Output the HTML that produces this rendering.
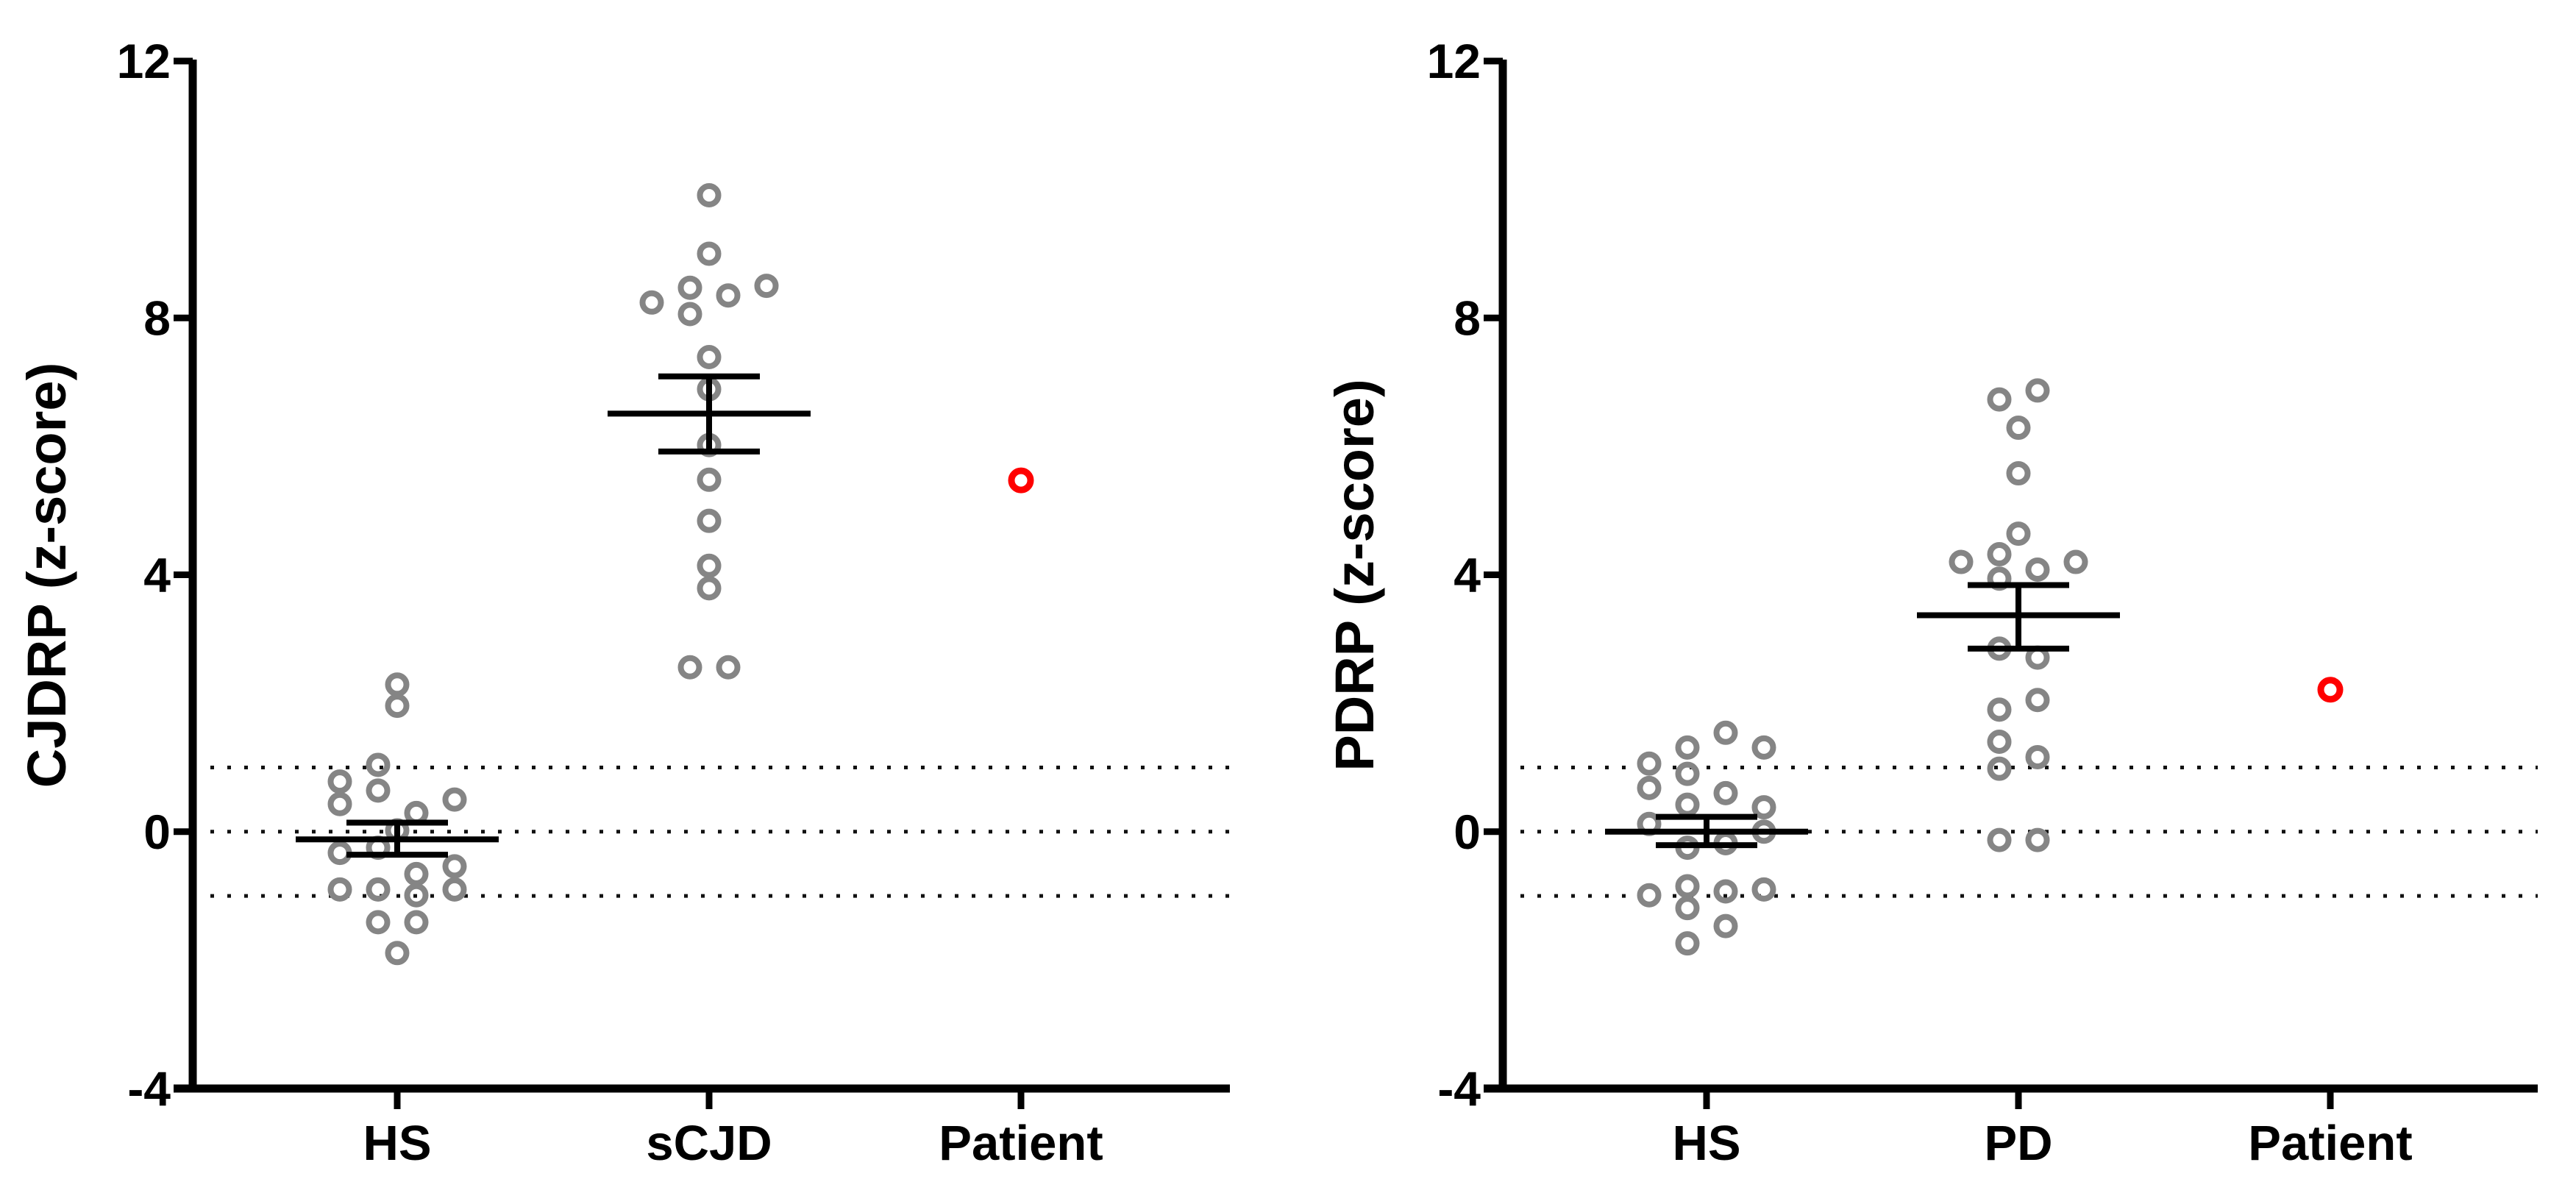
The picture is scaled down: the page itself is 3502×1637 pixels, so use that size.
<!DOCTYPE html>
<html><head><meta charset="utf-8"><style>
html,body{margin:0;padding:0;background:#fff;}
svg{display:block;font-family:"Liberation Sans",Arial,sans-serif;font-weight:bold;}
</style></head><body>
<svg id="chart" width="3502" height="1637" viewBox="0 0 3502 1637" xmlns="http://www.w3.org/2000/svg"></svg>
<script>
// ---- data ----
const yTicks = [12, 8, 4, 0, -4];
const refLines = [1, 0, -1];
const leftCategories = ["HS", "sCJD", "Patient"];
const rightCategories = ["HS", "PD", "Patient"];
const leftHS = [2.29,1.96,1.04,0.78,0.64,0.43,0.50,0.29,0.02,-0.33,-0.25,-0.54,-0.66,-0.90,-0.90,-0.90,-0.99,-1.41,-1.41,-1.89];
const leftHSSlot = [0,0,-1,-3,-1,-3,3,1,0,-3,-1,3,1,-3,-1,3,1,-1,1,0];
const leftHSStats = [-0.12, 0.14, -0.36];
const sCJD = [9.91,9.00,8.47,8.50,8.35,8.24,8.06,7.39,6.89,6.02,5.48,4.84,4.14,3.79,2.56,2.56];
const sCJDSlot = [0,0,-1,3,1,-3,-1,0,0,0,0,0,0,0,-1,1];
const sCJDStats = [6.51, 7.09, 5.92];
const leftPatient = [5.47];
const rightHS = [1.54,1.31,1.31,1.06,0.90,0.68,0.60,0.42,0.38,0.12,0.00,-0.18,-0.25,-0.99,-0.85,-0.93,-0.90,-1.19,-1.47,-1.74];
const rightHSSlot = [1,-1,3,-3,-1,-3,1,-1,3,-3,3,1,-1,-3,-1,1,3,-1,1,-1];
const rightHSStats = [0.00, 0.23, -0.21];
const PD = [6.73,6.87,6.29,5.58,4.64,4.20,4.32,4.08,4.20,3.94,2.85,2.71,2.05,1.90,1.40,1.16,0.98,-0.13,-0.13];
const PDSlot = [-1,1,0,0,0,-3,-1,1,3,-1,-1,1,1,-1,-1,1,-1,-1,1];
const PDStats = [3.37, 3.84, 2.85];
const rightPatient = [2.21];

const svg = document.getElementById('chart');
const NS = 'http://www.w3.org/2000/svg';
function mk(tag, attrs, parent){const e=document.createElementNS(NS,tag);for(const k in attrs)e.setAttribute(k,attrs[k]);(parent||svg).appendChild(e);return e;}

const yTop = 83, yBot = 1480, yMin = -4, yMax = 12;
function yScale(v){return yBot - (v - yMin) / (yMax - yMin) * (yBot - yTop);}
const slotW = 26;

function panel(cfg){
  const g = mk('g', {});
  
  
  const xAt = i => cfg.x0 + cfg.step * i;
  refLines.forEach(v=>{
    const l = mk('line',{x1:cfg.axisX+24,x2:cfg.axisEnd,y1:yScale(v),y2:yScale(v),stroke:'#111','stroke-width':5,'stroke-dasharray':'5 18'},g);
    
    
  });
  const ya = mk('line',{x1:cfg.axisX,x2:cfg.axisX,y1:yTop-2,y2:yBot+5,stroke:'#000','stroke-width':11},g);
  
  
  const xa = mk('line',{x1:cfg.axisX-26,x2:cfg.axisEnd,y1:yBot,y2:yBot,stroke:'#000','stroke-width':11},g);
  
  
  yTicks.forEach(v=>{
    const y=yScale(v);
    mk('line',{x1:cfg.axisX-26,x2:cfg.axisX,y1:y,y2:y,stroke:'#000','stroke-width':9},g);
    const t = mk('text',{x:cfg.axisX-30,y:y+23,'text-anchor':'end','font-size':66,fill:'#000'},g);
    t.textContent = v;
    
    
  });
  cfg.cats.forEach((c,i)=>{
    const x=xAt(i);
    mk('line',{x1:x,x2:x,y1:yBot,y2:yBot+28,stroke:'#000','stroke-width':9},g);
    const t = mk('text',{x:x,y:1577,'text-anchor':'middle','font-size':67,fill:'#000'},g);
    t.textContent = c;
    
    
  });
  const tt = mk('text',{x:0,y:0,'text-anchor':'middle','font-size':74,fill:'#000',transform:`translate(${cfg.titleX},782) rotate(-90)`},g);
  tt.textContent = cfg.title;
  
  
  cfg.groups.forEach((grp,gi)=>{
    grp.vals.forEach((v,j)=>{
      const c = mk('circle',{cx:xAt(gi)+grp.slots[j]*slotW,cy:yScale(v),r:12.5,fill:'none',stroke:'#858585','stroke-width':8},g);
      
      
    });
    const [m,hi,lo] = grp.stats, x=xAt(gi);
    const mean = mk('line',{x1:x-138,x2:x+138,y1:yScale(m),y2:yScale(m),stroke:'#000','stroke-width':8},g);
    
    
    mk('line',{x1:x-69,x2:x+69,y1:yScale(hi),y2:yScale(hi),stroke:'#000','stroke-width':8},g);
    mk('line',{x1:x-69,x2:x+69,y1:yScale(lo),y2:yScale(lo),stroke:'#000','stroke-width':8},g);
    const sem = mk('line',{x1:x,x2:x,y1:yScale(hi),y2:yScale(lo),stroke:'#000','stroke-width':8},g);
    
    
  });
  cfg.patient.forEach(v=>{
    const c = mk('circle',{cx:xAt(2),cy:yScale(v),r:13,fill:'none',stroke:'#ff0000','stroke-width':9},g);
    
    
  });
}

panel({name:'cjdrp-panel',axisX:262,axisEnd:1672,x0:540,step:424,titleX:89,title:'CJDRP (z-score)',cats:leftCategories,
  groups:[{vals:leftHS,slots:leftHSSlot,stats:leftHSStats},{vals:sCJD,slots:sCJDSlot,stats:sCJDStats}],patient:leftPatient});
panel({name:'pdrp-panel',axisX:2043,axisEnd:3450,x0:2320,step:424,titleX:1867,title:'PDRP (z-score)',cats:rightCategories,
  groups:[{vals:rightHS,slots:rightHSSlot,stats:rightHSStats},{vals:PD,slots:PDSlot,stats:PDStats}],patient:rightPatient});
</script>
</body></html>
